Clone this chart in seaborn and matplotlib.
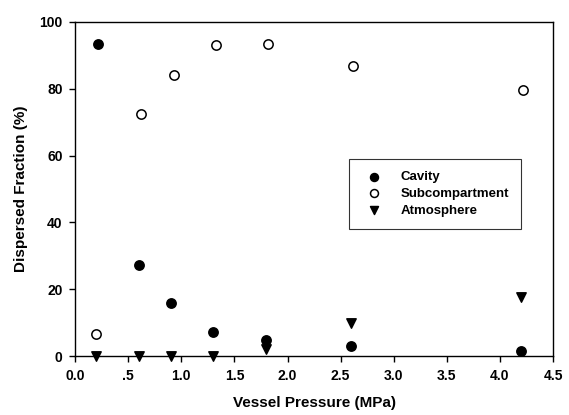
import matplotlib
matplotlib.use("Agg")
import matplotlib.pyplot as plt
import seaborn as sns
import pandas as pd

# Data
cavity_x = [0.22, 0.60, 0.90, 1.30, 1.80, 2.60, 4.20]
cavity_y = [93.5, 27.3, 16.0, 7.2, 4.8, 3.1, 1.5]

sub_x = [0.20, 0.62, 0.93, 1.33, 1.82, 2.62, 4.22]
sub_y = [6.7, 72.5, 84.0, 93.2, 93.5, 86.7, 79.7]

atm_x = [0.20, 0.60, 0.90, 1.30, 1.80, 2.60, 4.20]
atm_y = [0.0, 0.0, 0.0, 0.0, 2.2, 10.0, 17.8]

x_ticks = [0.0, 0.5, 1.0, 1.5, 2.0, 2.5, 3.0, 3.5, 4.0, 4.5]
x_tick_labels = ["0.0", ".5", "1.0", "1.5", "2.0", "2.5", "3.0", "3.5", "4.0", "4.5"]
y_ticks = [0, 20, 40, 60, 80, 100]

sns.set_theme(style="ticks")
plt.rcParams['font.family'] = ['Liberation Sans', 'DejaVu Sans']
plt.rcParams['font.weight'] = 'bold'
plt.rcParams['text.color'] = 'black'
plt.rcParams['axes.labelcolor'] = 'black'

df = pd.concat([
    pd.DataFrame({"x": cavity_x, "y": cavity_y, "series": "Cavity"}),
    pd.DataFrame({"x": sub_x, "y": sub_y, "series": "Subcompartment"}),
    pd.DataFrame({"x": atm_x, "y": atm_y, "series": "Atmosphere"}),
])

fig = plt.figure(figsize=(5.69, 4.15), dpi=100)
ax = fig.add_axes([0.132, 0.142, 0.840, 0.805])

styles = {
    "Cavity": dict(marker="o", facecolor="black", edgecolor="black"),
    "Subcompartment": dict(marker="o", facecolor="white", edgecolor="black"),
    "Atmosphere": dict(marker="v", facecolor="black", edgecolor="black"),
}
for name, st in styles.items():
    sub = df[df["series"] == name]
    sns.scatterplot(data=sub, x="x", y="y", ax=ax, marker=st["marker"],
                    s=45, facecolor=st["facecolor"], edgecolor=st["edgecolor"],
                    linewidth=1.1, label=name, zorder=3, clip_on=False)

ax.set_xlim(0, 4.5)
ax.set_ylim(0, 100)
ax.set_xticks(x_ticks)
ax.set_xticklabels(x_tick_labels)
ax.set_yticks(y_ticks)
ax.tick_params(axis="both", direction="out", length=4, width=1, labelsize=10,
               colors="black", pad=5)
for lab in ax.get_xticklabels() + ax.get_yticklabels():
    lab.set_fontweight("bold")
for sp in ax.spines.values():
    sp.set_linewidth(1.0)
    sp.set_color("black")

ax.set_xlabel("Vessel Pressure (MPa)", fontsize=11, fontweight="bold", labelpad=10)
ax.set_ylabel("Dispersed Fraction (%)", fontsize=11, fontweight="bold", labelpad=8)

leg = ax.legend(loc="upper left", bbox_to_anchor=(0.573, 0.59), frameon=True,
                fancybox=False, edgecolor="black", fontsize=9.5, borderaxespad=0,
                markerscale=0.85, handletextpad=1.0, borderpad=0.9, labelspacing=0.35)
leg.get_frame().set_linewidth(0.8)
for t in leg.get_texts():
    t.set_fontweight("bold")

fig.savefig("out.png", dpi=100)
